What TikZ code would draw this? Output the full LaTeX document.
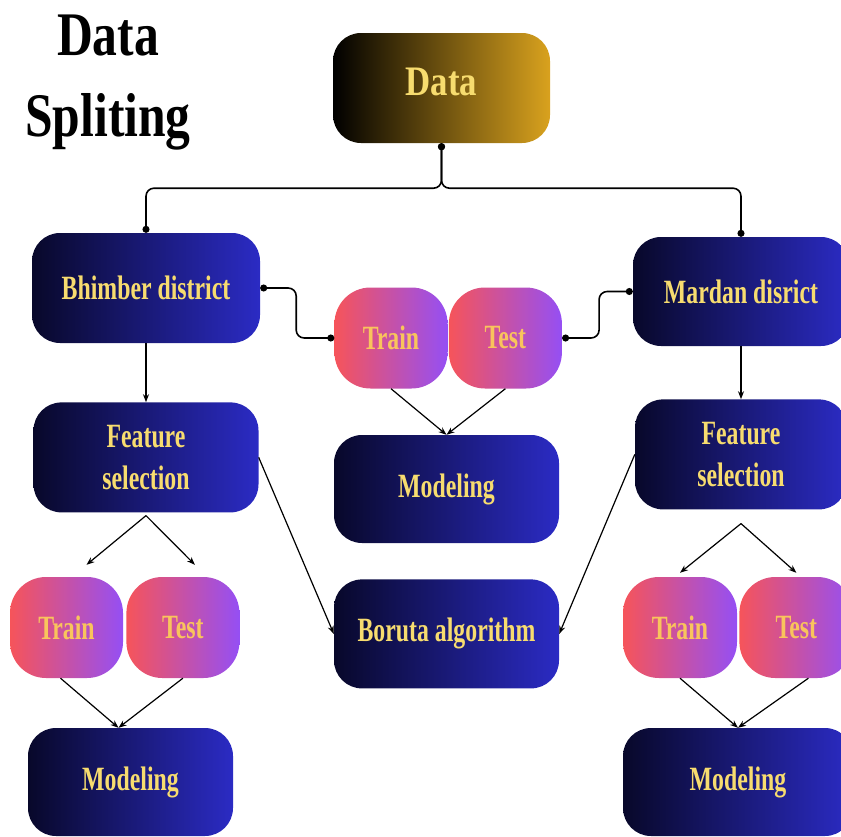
\documentclass[tikz,border=0pt]{standalone}
\usepackage{fontspec}
\setmainfont{Liberation Serif}
\newfontfamily\boxfont{Liberation Serif}[FakeStretch=0.7]
\newfontfamily\headfont{Liberation Serif}[FakeStretch=0.83]
\newfontfamily\titlefont{Liberation Serif}[FakeStretch=0.8]
\usetikzlibrary{positioning,arrows.meta}

\definecolor{navydark}{HTML}{08082A}
\definecolor{royal}{HTML}{2B2BC4}
\definecolor{goldish}{HTML}{D9A21E}
\definecolor{coral}{HTML}{F6545A}
\definecolor{violet}{HTML}{954FF4}
\definecolor{labelyellow}{HTML}{F7DC6F}
\definecolor{peach}{HTML}{F9C45C}

\tikzset{
  block/.style={rounded corners=28pt, inner sep=0pt, align=center,
    font=\boxfont\bfseries\fontsize{34}{42}\selectfont, text=labelyellow,
    left color=navydark, right color=royal},
  split/.style={block, rounded corners=36pt, minimum width=113pt, minimum height=101pt,
    left color=coral, right color=violet, text=peach},
  link/.style={line width=1.6pt, rounded corners=8pt, {Circle[length=7pt]}-{Circle[length=7pt]}},
  flow/.style={line width=1.2pt, -{Stealth[length=8pt,width=6pt]}}
}

\begin{document}
\begin{tikzpicture}[x=1pt,y=1pt]
	\useasboundingbox (0,0) rectangle (841,-836);
	
	% Title
	\node[font=\titlefont\bfseries\fontsize{62}{81}\selectfont, align=center, inner sep=0pt, anchor=north]
		(title) at (108,-15) {Data\\Spliting};
	
	% Top level: the data and the two districts
	\node[block, left color=black, right color=goldish, minimum width=217pt, minimum height=110pt,
		text depth=12pt, font=\headfont\bfseries\fontsize{42}{50}\selectfont] (data) at (441.5,-88) {Data};
	\node[block, minimum width=228pt, minimum height=110pt] (bhim) at (146,-288) {Bhimber district};
	\node[block, minimum width=216pt, minimum height=109pt] (mardan) at (741,-291.5) {Mardan disrict};
	
	% Middle column
	\node[split] (train1) at (391,-338) {Train};
	\node[split, right=1pt of train1] (test1) {Test};
	\node[block, minimum width=225pt, minimum height=108pt] (mod1) at (446.5,-489) {Modeling};
	\node[block, below=36pt of mod1, minimum width=225pt, minimum height=109pt] (boruta) {Boruta algorithm};
	
	% Left branch
	\node[block, below=59pt of bhim, minimum width=225pt, minimum height=110pt] (featL) {Feature\\selection};
	\node[split] (trainL) at (66.5,-627.5) {Train};
	\node[split, right=3pt of trainL] (testL) {Test};
	\node[block, minimum width=205pt, minimum height=108pt] (modL) at (130.5,-782) {Modeling};
	
	% Right branch
	\node[block, below=53pt of mardan, minimum width=212pt, minimum height=110pt] (featR) {Feature\\selection};
	\node[split, minimum width=114pt] (trainR) at (680,-627.5) {Train};
	\node[split, minimum width=114pt, right=2pt of trainR] (testR) {Test};
	\node[block, minimum width=230pt, minimum height=108pt] (modR) at (738,-782) {Modeling};
	
	% Splitting links
	\draw[link] (data.south) -- ++(0,-45) -| (bhim.north);
	\draw[link] (data.south) -- ++(0,-45) -| (mardan.north);
	\draw[link] (bhim.east) -- ++(36,0) |- (train1.west);
	\draw[link] (test1.east) -- ++(37,0) |- (mardan.west);
	
	% Flow arrows
	\draw[flow] (bhim) -- (featL);
	\draw[flow] (mardan) -- (featR);
	\draw[flow] (train1.south) -- (mod1.north);
	\draw[flow] (test1.south) -- (mod1.north);
	\draw[flow] (featL.east) -- (boruta.west);
	\draw[flow] (featR.west) -- (boruta.east);
	
	\coordinate (forkL) at ([yshift=-3pt]featL.south);
	\draw[flow] (forkL) -- ([xshift=20pt,yshift=12pt]trainL.north);
	\draw[flow] (forkL) -- ([xshift=12pt,yshift=12pt]testL.north);
	\draw[flow] ([xshift=-6pt]trainL.south) -- ([xshift=-12pt]modL.north);
	\draw[flow] (testL.south) -- ([xshift=-12pt]modL.north);
	
	\coordinate (forkR) at ([yshift=-14pt]featR.south);
	\draw[flow] (forkR) -- ([yshift=4pt]trainR.north);
	\draw[flow] (forkR) -- ([yshift=4pt]testR.north);
	\draw[flow] (trainR.south) -- (modR.north);
	\draw[flow] ([xshift=12pt]testR.south) -- (modR.north);
\end{tikzpicture}
\end{document}
